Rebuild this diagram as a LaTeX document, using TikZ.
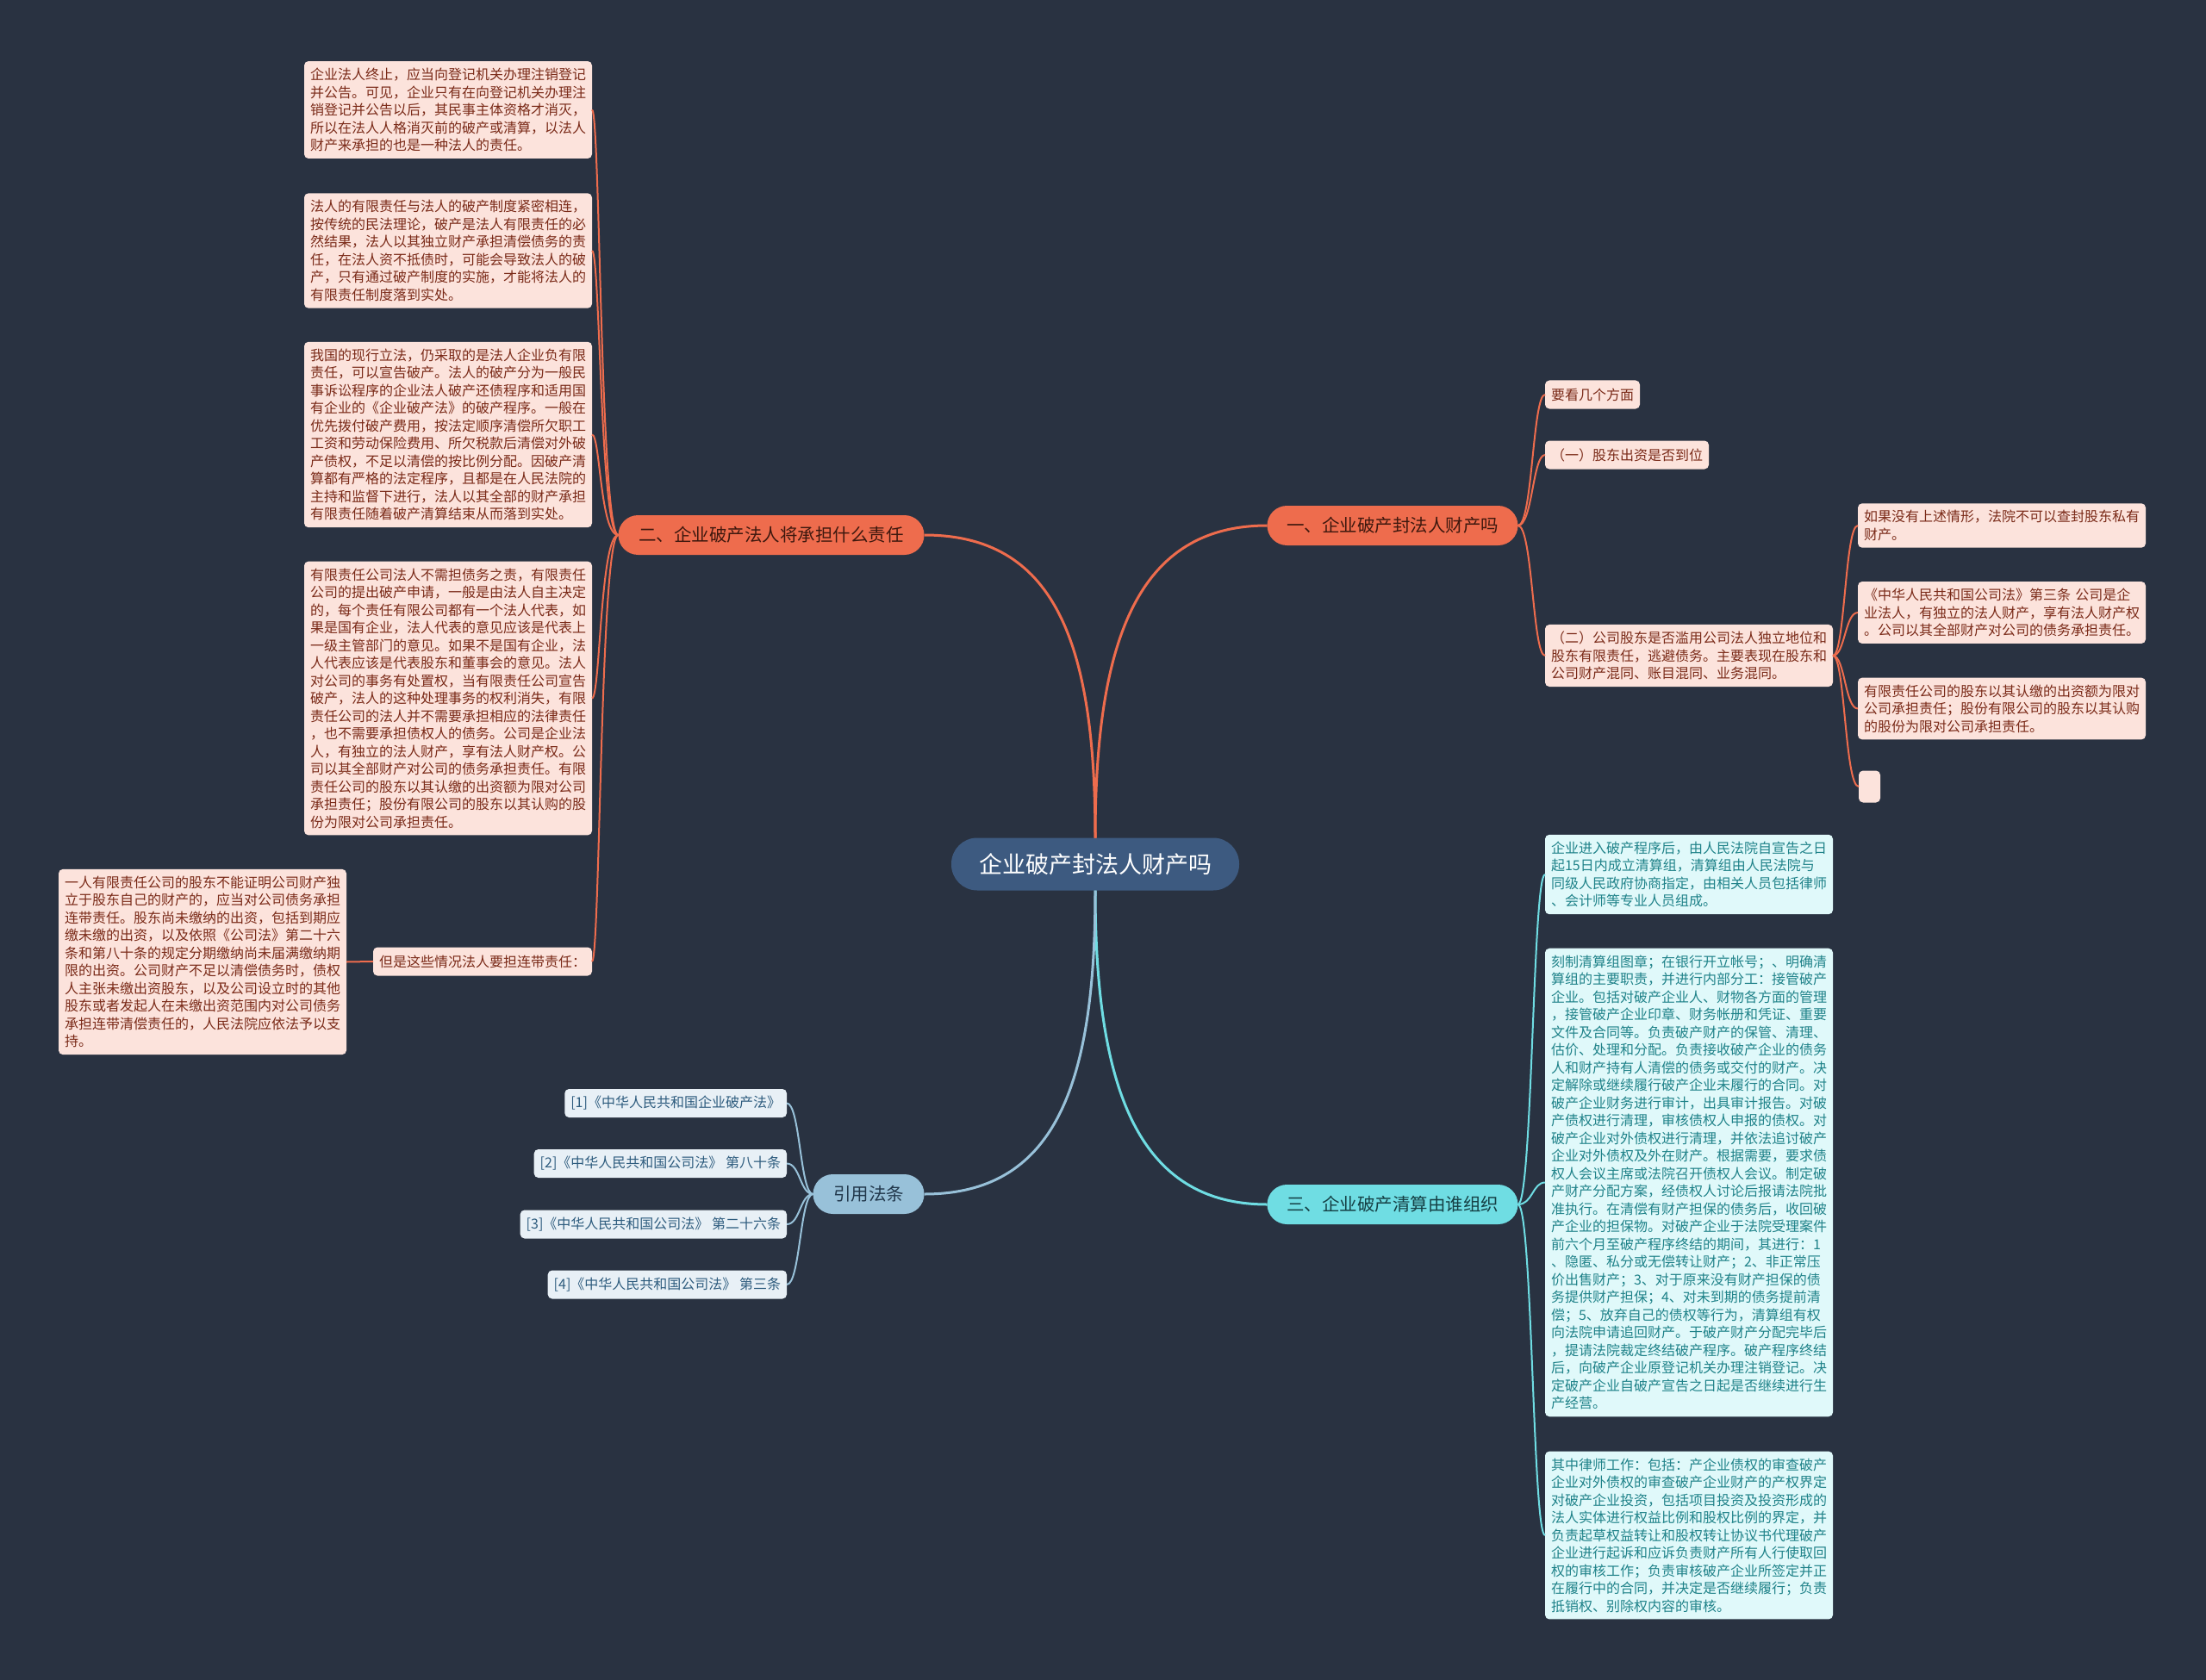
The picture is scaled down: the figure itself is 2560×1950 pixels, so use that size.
\documentclass[tikz,border=0pt]{standalone}
\usepackage{fontspec}
\setmainfont{Noto Sans CJK SC}
\usetikzlibrary{calc}
\definecolor{bg}{HTML}{293241}
\definecolor{navy}{HTML}{3D5A80}
\definecolor{orng}{HTML}{EE6C4D}
\definecolor{cyn}{HTML}{6FDDE3}
\definecolor{lblue}{HTML}{98C1D9}
\definecolor{pinkfill}{HTML}{FCE3DC}
\definecolor{pinktext}{HTML}{7A2A18}
\definecolor{cynfill}{HTML}{E0F9FA}
\definecolor{cyntext}{HTML}{1F8289}
\definecolor{bluefill}{HTML}{E8F0F6}
\definecolor{bluetext}{HTML}{2E5C7E}
\definecolor{obtext}{HTML}{3E180E}
\definecolor{cbtext}{HTML}{153F44}
\definecolor{lbtext}{HTML}{22384C}
\begin{document}
\begin{tikzpicture}[x=1pt,y=-1pt,
  every node/.style={inner sep=0pt,outer sep=0pt},
  rootnode/.style={fill=navy,text=white,rounded corners=30pt,minimum width=334pt,minimum height=61pt,font=\fontsize{27}{30}\selectfont},
  branchnode/.style={rounded corners=23pt,minimum height=46pt,font=\fontsize{20.5}{24}\selectfont},
  obranch/.style={branchnode,fill=orng,text=obtext},
  cbranch/.style={branchnode,fill=cyn,text=cbtext},
  lbranch/.style={branchnode,fill=lblue,text=lbtext},
  leafbox/.style={rounded corners=5pt,inner xsep=7pt,inner ysep=8pt,font=\fontsize{16}{20.5}\selectfont,align=left},
  oneline/.style={leafbox,minimum height=33pt},
  multi/.style={leafbox,text width=320pt},
  oleaf/.style={fill=pinkfill,text=pinktext},
  cleaf/.style={fill=cynfill,text=cyntext},
  lleaf/.style={fill=bluefill,text=bluetext},
  oconn/.style={draw=orng,line width=2pt},
  cconn/.style={draw=cyn,line width=2pt},
  lconn/.style={draw=lblue,line width=2pt},
  omain/.style={draw=orng,line width=3pt},
  cmain/.style={draw=cyn,line width=3pt},
  lmain/.style={draw=lblue,line width=3pt}
]
\useasboundingbox[fill=bg] (0,0) rectangle (2560,1950);

% root and branches
\node[rootnode] (root) at (1271,1003) {企业破产封法人财产吗};
\node[obranch,minimum width=291pt] (b1) at (1616,610) {一、企业破产封法人财产吗};
\node[obranch,minimum width=355pt] (b2) at (895,621) {二、企业破产法人将承担什么责任};
\node[cbranch,minimum width=291pt] (b3) at (1616,1398) {三、企业破产清算由谁组织};
\node[lbranch,minimum width=129pt] (b4) at (1008,1386) {引用法条};

% branch 1 children
\node[oneline,oleaf,anchor=west] (r1) at (1793,458) {要看几个方面};
\node[oneline,oleaf,anchor=west] (r2) at (1793,528) {（一）股东出资是否到位};
\node[multi,oleaf,anchor=west] (r3) at (1793,761) {（二）公司股东是否滥用公司法人独立地位和\\股东有限责任，逃避债务。主要表现在股东和\\公司财产混同、账目混同、业务混同。};
\node[multi,oleaf,anchor=west] (c1) at (2156,610) {如果没有上述情形，法院不可以查封股东私有\\财产。};
\node[multi,oleaf,anchor=west] (c2) at (2156,711) {《中华人民共和国公司法》第三条 公司是企\\业法人，有独立的法人财产，享有法人财产权\\。公司以其全部财产对公司的债务承担责任。};
\node[multi,oleaf,anchor=west] (c3) at (2156,822.5) {有限责任公司的股东以其认缴的出资额为限对\\公司承担责任；股份有限公司的股东以其认购\\的股份为限对公司承担责任。};
\node[oleaf,rounded corners=5pt,minimum width=25pt,minimum height=37pt,anchor=west] (c4) at (2157,913) {};

% branch 2 children
\node[multi,oleaf,anchor=east] (a1) at (687,127.5) {企业法人终止，应当向登记机关办理注销登记\\并公告。可见，企业只有在向登记机关办理注\\销登记并公告以后，其民事主体资格才消灭，\\所以在法人人格消灭前的破产或清算，以法人\\财产来承担的也是一种法人的责任。};
\node[multi,oleaf,anchor=east] (a2) at (687,291) {法人的有限责任与法人的破产制度紧密相连，\\按传统的民法理论，破产是法人有限责任的必\\然结果，法人以其独立财产承担清偿债务的责\\任，在法人资不抵债时，可能会导致法人的破\\产，只有通过破产制度的实施，才能将法人的\\有限责任制度落到实处。};
\node[multi,oleaf,anchor=east] (a3) at (687,504.5) {我国的现行立法，仍采取的是法人企业负有限\\责任，可以宣告破产。法人的破产分为一般民\\事诉讼程序的企业法人破产还债程序和适用国\\有企业的《企业破产法》的破产程序。一般在\\优先拨付破产费用，按法定顺序清偿所欠职工\\工资和劳动保险费用、所欠税款后清偿对外破\\产债权，不足以清偿的按比例分配。因破产清\\算都有严格的法定程序，且都是在人民法院的\\主持和监督下进行，法人以其全部的财产承担\\有限责任随着破产清算结束从而落到实处。};
\node[multi,oleaf,anchor=east] (a4) at (687,810.5) {有限责任公司法人不需担债务之责，有限责任\\公司的提出破产申请，一般是由法人自主决定\\的，每个责任有限公司都有一个法人代表，如\\果是国有企业，法人代表的意见应该是代表上\\一级主管部门的意见。如果不是国有企业，法\\人代表应该是代表股东和董事会的意见。法人\\对公司的事务有处置权，当有限责任公司宣告\\破产，法人的这种处理事务的权利消失，有限\\责任公司的法人并不需要承担相应的法律责任\\，也不需要承担债权人的债务。公司是企业法\\人，有独立的法人财产，享有法人财产权。公\\司以其全部财产对公司的债务承担责任。有限\\责任公司的股东以其认缴的出资额为限对公司\\承担责任；股份有限公司的股东以其认购的股\\份为限对公司承担责任。};
\node[oneline,oleaf,anchor=east] (a5) at (687,1116) {但是这些情况法人要担连带责任：};
\node[multi,oleaf,anchor=east] (a6) at (402,1116.5) {一人有限责任公司的股东不能证明公司财产独\\立于股东自己的财产的，应当对公司债务承担\\连带责任。股东尚未缴纳的出资，包括到期应\\缴未缴的出资，以及依照《公司法》第二十六\\条和第八十条的规定分期缴纳尚未届满缴纳期\\限的出资。公司财产不足以清偿债务时，债权\\人主张未缴出资股东，以及公司设立时的其他\\股东或者发起人在未缴出资范围内对公司债务\\承担连带清偿责任的，人民法院应依法予以支\\持。};

% branch 3 children
\node[multi,cleaf,anchor=west] (t1) at (1793,1015) {企业进入破产程序后，由人民法院自宣告之日\\起15日内成立清算组，清算组由人民法院与\\同级人民政府协商指定，由相关人员包括律师\\、会计师等专业人员组成。};
\node[multi,cleaf,anchor=west] (t2) at (1793,1372.5) {刻制清算组图章；在银行开立帐号；、明确清\\算组的主要职责，并进行内部分工：接管破产\\企业。包括对破产企业人、财物各方面的管理\\，接管破产企业印章、财务帐册和凭证、重要\\文件及合同等。负责破产财产的保管、清理、\\估价、处理和分配。负责接收破产企业的债务\\人和财产持有人清偿的债务或交付的财产。决\\定解除或继续履行破产企业未履行的合同。对\\破产企业财务进行审计，出具审计报告。对破\\产债权进行清理，审核债权人申报的债权。对\\破产企业对外债权进行清理，并依法追讨破产\\企业对外债权及外在财产。根据需要，要求债\\权人会议主席或法院召开债权人会议。制定破\\产财产分配方案，经债权人讨论后报请法院批\\准执行。在清偿有财产担保的债务后，收回破\\产企业的担保物。对破产企业于法院受理案件\\前六个月至破产程序终结的期间，其进行：1\\、隐匿、私分或无偿转让财产；2、非正常压\\价出售财产；3、对于原来没有财产担保的债\\务提供财产担保；4、对未到期的债务提前清\\偿；5、放弃自己的债权等行为，清算组有权\\向法院申请追回财产。于破产财产分配完毕后\\，提请法院裁定终结破产程序。破产程序终结\\后，向破产企业原登记机关办理注销登记。决\\定破产企业自破产宣告之日起是否继续进行生\\产经营。};
\node[multi,cleaf,anchor=west] (t3) at (1793,1782) {其中律师工作：包括：产企业债权的审查破产\\企业对外债权的审查破产企业财产的产权界定\\对破产企业投资，包括项目投资及投资形成的\\法人实体进行权益比例和股权比例的界定，并\\负责起草权益转让和股权转让协议书代理破产\\企业进行起诉和应诉负责财产所有人行使取回\\权的审核工作；负责审核破产企业所签定并正\\在履行中的合同，并决定是否继续履行；负责\\抵销权、别除权内容的审核。};

% branch 4 children
\node[oneline,lleaf,anchor=east] (l1) at (913,1280.5) {[1]《中华人民共和国企业破产法》};
\node[oneline,lleaf,anchor=east] (l2) at (913,1350.5) {[2]《中华人民共和国公司法》 第八十条};
\node[oneline,lleaf,anchor=east] (l3) at (913,1421) {[3]《中华人民共和国公司法》 第二十六条};
\node[oneline,lleaf,anchor=east] (l4) at (913,1491) {[4]《中华人民共和国公司法》 第三条};

% root connectors
\draw[omain] (root.north) .. controls +(0,-230) and +(-150,0) .. (b1.west);
\draw[omain] (root.north) .. controls +(0,-230) and +(150,0) .. (b2.east);
\draw[cmain] (root.south) .. controls +(0,230) and +(-150,0) .. (b3.west);
\draw[lmain] (root.south) .. controls +(0,230) and +(150,0) .. (b4.east);

% branch 1 connectors
\coordinate (tb1) at ([xshift=17pt]b1.east);
\foreach \k in {r1,r2,r3}
  \draw[oconn] (b1.east) .. controls (tb1) and (tb1 |- \k.west) .. (\k.west);
\coordinate (tr3) at ([xshift=14pt]r3.east);
\foreach \k in {c1,c2,c3,c4}
  \draw[oconn] (r3.east) .. controls (tr3) and (tr3 |- \k.west) .. (\k.west);

% branch 2 connectors
\coordinate (tb2) at ([xshift=-21pt]b2.west);
\foreach \k in {a1,a2,a3,a4,a5}
  \draw[oconn] (b2.west) .. controls (tb2) and (tb2 |- \k.east) .. (\k.east);
\draw[oconn] (a5.west) -- (a6.east);

% branch 3 connectors
\coordinate (tb3) at ([xshift=17pt]b3.east);
\foreach \k in {t1,t2,t3}
  \draw[cconn] (b3.east) .. controls (tb3) and (tb3 |- \k.west) .. (\k.west);

% branch 4 connectors
\coordinate (tb4) at ([xshift=-15pt]b4.west);
\foreach \k in {l1,l2,l3,l4}
  \draw[lconn] (b4.west) .. controls (tb4) and (tb4 |- \k.east) .. (\k.east);
\end{tikzpicture}
\end{document}
